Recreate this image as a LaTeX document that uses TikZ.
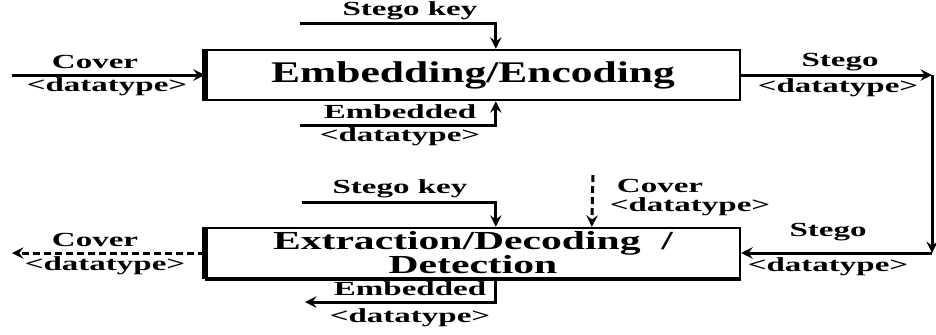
\documentclass[tikz,border=0pt]{standalone}
\usepackage{fontspec}
\setmainfont{Liberation Serif}
\usepackage{graphicx}
\usetikzlibrary{calc}
\newcommand{\widetxt}[1]{\scalebox{1.65}[1]{#1}}
\newcommand{\boxtxt}[1]{\scalebox{1.45}[1]{#1}}
\newcommand{\boxtxtb}[1]{\scalebox{1.6}[1]{#1}}

\begin{document}
\begin{tikzpicture}[
    x=0.5pt, y=-0.5pt,
    blockbox/.style={rectangle, draw=black, line width=1.2pt, minimum width=267pt, minimum height=25pt, inner sep=0pt, align=center, font=\fontsize{15}{12}\selectfont\bfseries},
    lbl/.style={inner sep=1pt, font=\fontsize{10}{12}\selectfont\bfseries},
    wire/.style={line width=1.5pt, ->, >=stealth},
    dwire/.style={wire, dash pattern=on 3.5pt off 2pt}
    ]
        \useasboundingbox (0,0) rectangle (936,334);
        % the two blocks
        \node[blockbox] (enc) at (473,75) {\boxtxt{Embedding/Encoding}};
        \node[blockbox, font=\fontsize{13}{12}\selectfont\bfseries] (dec) at (473,253) {\boxtxtb{Extraction/Decoding~~/}\\\boxtxtb{Detection}};
        \draw[line width=3pt] (enc.north west) -- (enc.south west);
        \draw[line width=3pt] (dec.north west) -- (dec.south west);
        \draw[line width=1.8pt] (dec.south west) -- (dec.south east);

        % embedding side
        \coordinate (cvIn) at (12,75);
        \coordinate (kIn) at (300,23);
        \coordinate (emIn) at (300,125);
        \draw[wire] (cvIn) -- (enc.west);
        \draw[wire] (kIn) -| ($(enc.north west)+(291,0)$);
        \draw[wire] (emIn) -| ($(enc.south west)+(291,0)$);
        \node[lbl] (kA) at (410,11) {\widetxt{Stego key}};
        \node[lbl] (cvA) at (95,62) {\widetxt{Cover}};
        \node[lbl] (dtA) at (107,87) {\widetxt{<datatype>}};
        \node[lbl] (emA) at (400,112) {\widetxt{Embedded}};
        \node[lbl] (dtB) at (400,137) {\widetxt{<datatype>}};

        % stego path
        \coordinate (cr1) at (932,75);
        \coordinate (cr2) at (932,253);
        \draw[wire] (enc.east) -- (cr1);
        \draw[wire] (cr1) -- (cr2);
        \draw[wire] (cr2) -- (dec.east);
        \node[lbl] (stA) at (840,62) {\widetxt{Stego}};
        \node[lbl] (dtC) at (838,88) {\widetxt{<datatype>}};
        \node[lbl] (stB) at (828,232) {\widetxt{Stego}};
        \node[lbl] (dtD) at (828,267) {\widetxt{<datatype>}};

        % extraction side
        \coordinate (kIn2) at (302,202);
        \coordinate (cvIn2) at (593,175);
        \coordinate (cvOut) at (12,253);
        \coordinate (emOut) at (305,302);
        \draw[wire] (kIn2) -| ($(dec.north west)+(291,0)$);
        \draw[dwire] (cvIn2) -- ($(dec.north west)+(387,0)$);
        \draw[dwire] (dec.west) -- (cvOut);
        \draw[wire] ($(dec.south west)+(291,0)$) |- (emOut);
        \node[lbl] (kB) at (400,189) {\widetxt{Stego key}};
        \node[lbl] (cvB) at (660,186) {\widetxt{Cover}};
        \node[lbl] (dtE) at (690,207) {\widetxt{<datatype>}};
        \node[lbl] (cvC) at (95,240) {\widetxt{Cover}};
        \node[lbl] (dtF) at (105,266) {\widetxt{<datatype>}};
        \node[lbl] (emB) at (410,289) {\widetxt{Embedded}};
        \node[lbl] (dtG) at (410,318) {\widetxt{<datatype>}};
\end{tikzpicture}
\end{document}
